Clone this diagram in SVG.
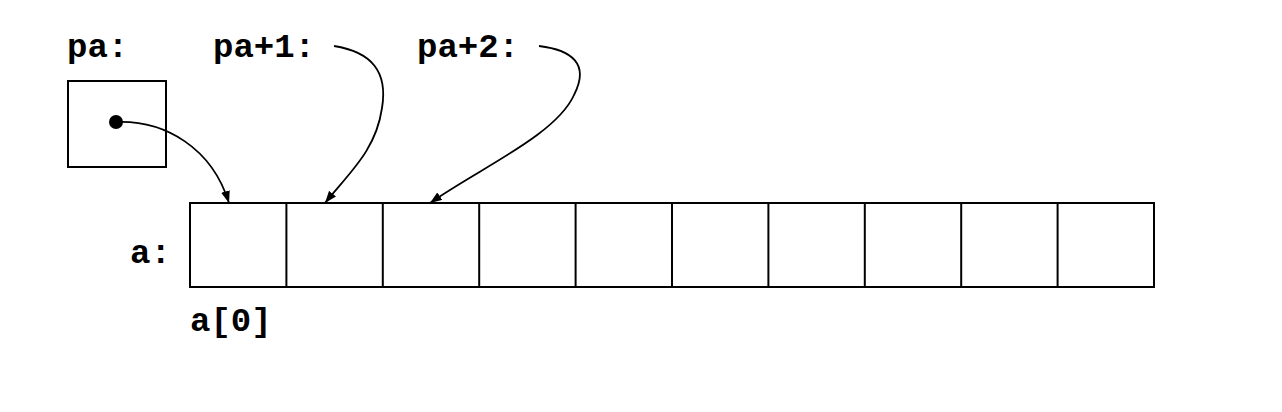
<svg xmlns="http://www.w3.org/2000/svg" width="1282" height="412" viewBox="0 0 1282 412">
<style>
.lbl{font-family:"Liberation Mono","Courier New",monospace;font-weight:bold;font-size:34px;fill:#000}
.box{fill:none;stroke:#000;stroke-width:2}
.conn{fill:none;stroke:#000;stroke-width:1.8}
</style>
<defs>
<marker id="ah" viewBox="0 0 12 9" refX="12" refY="4.5" markerWidth="12" markerHeight="9" markerUnits="userSpaceOnUse" orient="auto">
<path d="M0,0 L12,4.5 L0,9 Z" fill="#000"/>
</marker>
</defs>
<rect width="1282" height="412" fill="#fff"/>
<g id="pa">
<text class="lbl" x="67" y="57">pa:</text>
<rect class="box" x="68" y="81" width="98" height="86"/>
<circle cx="116" cy="122" r="7" fill="#000"/>
</g>
<g id="pa1"><text class="lbl" x="213" y="57">pa+1:</text></g>
<g id="pa2"><text class="lbl" x="417" y="57">pa+2:</text></g>
<g id="array">
<text class="lbl" x="130" y="263">a:</text>
<rect class="box" x="190" y="203" width="964" height="84"/>
<path class="box" d="M286.4,203V287M382.8,203V287M479.2,203V287M575.6,203V287M672,203V287M768.4,203V287M864.8,203V287M961.2,203V287M1057.6,203V287"/>
<text class="lbl" x="190" y="331">a[0]</text>
</g>
<g id="connectors">
<path class="conn" marker-end="url(#ah)" d="M116,122 C165,120 212,148 229,203"/>
<path class="conn" marker-end="url(#ah)" d="M334,46 C372,52 388,72 382,108 C376,150 350,172 325,203"/>
<path class="conn" marker-end="url(#ah)" d="M539,46 C572,50 590,64 574,95 C556,135 480,168 430,203"/>
</g>
</svg>
